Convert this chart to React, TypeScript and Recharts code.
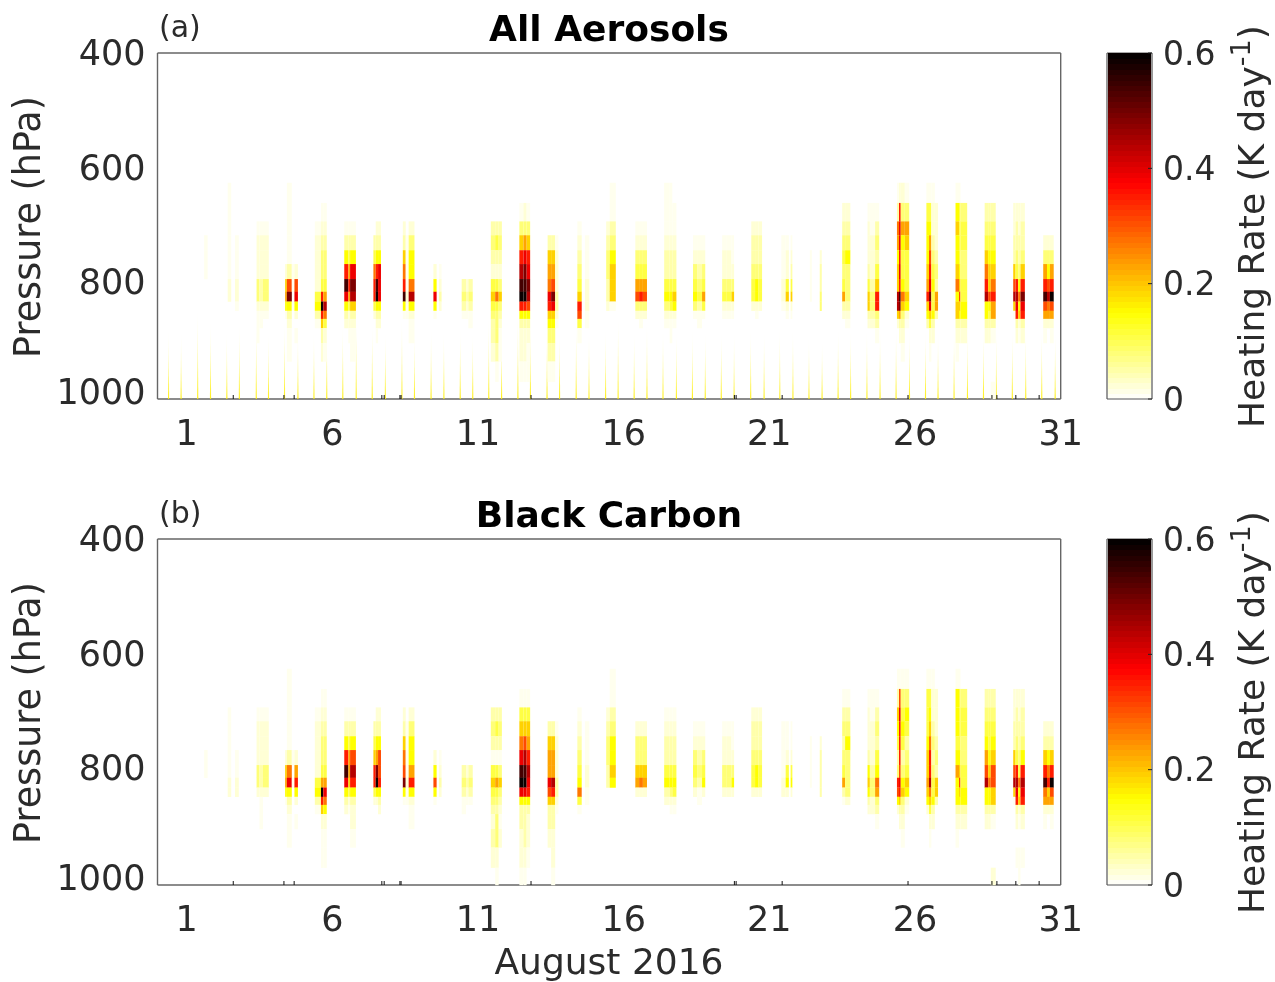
import React from "react";
import { ScatterChart, Scatter, XAxis, YAxis } from "recharts";

// Pressure edges of the model layers (hPa)
const pressureEdges = [625, 660, 692, 716, 742, 766, 792, 814, 831, 847, 861, 877, 903, 935, 970, 1000];
const pressureTicks = [400, 600, 800, 1000];
const pressureLabelNudge = [0, 0, -2, -7];
const dayTicks = [1, 6, 11, 16, 21, 26, 31];
const axisMarks = [2.6, 4.34, 4.69, 7.7, 7.78, 8.32, 8.36, 12.82, 19.8, 19.86, 21.44, 25.76, 28.64, 28.81, 29.46, 30.26];
const colorbarTicks = [0, 0.2, 0.4, 0.6];

// Heating rate (K/day) for each tone letter used in the tables below
const tones: Record<string, number> = {
  ".": 0, a: 0.01, b: 0.025, c: 0.05, d: 0.08, e: 0.11, f: 0.15, g: 0.19, h: 0.23,
  i: 0.27, j: 0.31, k: 0.35, l: 0.39, m: 0.44, n: 0.49, o: 0.54, p: 0.59,
};

// Time edges (days) of the strips in each daytime block
const stripEdges = [
  [1.6, 1.72],
  [2.41, 2.53, 2.66, 2.79],
  [3.4, 3.5, 3.62, 3.82],
  [4.38, 4.44, 4.61, 4.7, 4.82],
  [5.4, 5.61, 5.69, 5.81],
  [6.41, 6.55, 6.61, 6.81],
  [7.41, 7.49, 7.57, 7.67],
  [8.42, 8.52, 8.62, 8.82],
  [9.47, 9.58, 9.66, 9.75],
  [10.44, 10.59, 10.67, 10.82],
  [11.44, 11.59, 11.71, 11.82],
  [12.42, 12.56, 12.67, 12.79],
  [13.39, 13.51, 13.65, 13.76],
  [14.41, 14.56, 14.67, 14.82],
  [15.4, 15.52, 15.73],
  [16.4, 16.53, 16.66, 16.8],
  [17.39, 17.58, 17.67, 17.81],
  [18.38, 18.52, 18.69, 18.8],
  [19.38, 19.54, 19.7, 19.79],
  [20.38, 20.51, 20.63, 20.75],
  [21.41, 21.56, 21.67, 21.73, 21.79],
  [22.39, 22.46, 22.73, 22.8],
  [23.5, 23.6, 23.78],
  [24.37, 24.45, 24.63, 24.77],
  [25.38, 25.45, 25.51, 25.65, 25.8],
  [26.39, 26.48, 26.56, 26.68, 26.79],
  [27.39, 27.51, 27.56, 27.79],
  [28.39, 28.51, 28.6, 28.77],
  [29.37, 29.45, 29.54, 29.62, 29.77],
  [30.4, 30.53, 30.63, 30.76],
];

// All aerosols: one string per strip, one letter per layer, top layer first
const aerosolTones = [
  ["...aaa........."],
  ["aaaaaabb.......", "...............", "...aaabba......"],
  ["..abbbddbaaa...", "..abbbccbaa....", "..abbbddba....."],
  [".....bghfa.....", "aaaaacjnfcbaa..", ".....aa.a......", ".....bjlfb.a..."],
  ["..abbbbefca....", ".abcddekpkgcb..", ".abcddehmieba.."],
  ["..acfkolfcb....", "..acehkhebba...", "..acflnmgcbaa.."],
  ["...ceikkeb.....", "..bcfkopfcba...", "..bcflllfcb...."],
  ["..bcgikofa.....", "...aaaabaa.....", "..bdffimfbaa..."],
  [".....bflfa.....", "...............", ".....abcb......"],
  ["......cdca.....", "......bcba.....", "......cdcaa...."],
  ["..cdcbegedccb..", "..cecbeiedddca.", "..cdcbdgdcbaa.."],
  [".adgkmopkfcbba.", ".bdhlnopkfcbba.", ".adgklnmjfcbaa."],
  ["...cghilkgfdca.", "...cghjnlgfdca.", "...abbbccba...."],
  ["..abcdegkjea...", "...............", "...aaabbbaa...."],
  ["..bcddccb......", "aacdfggga......"],
  ["..abdehjdb.....", "..abdehkdba....", "..abdehjdb....."],
  ["aaabccefdba....", "aaabccefebaa...", ".aabccegfba...."],
  ["...abdefda.....", "...abcdecaa....", "...abdehea....."],
  ["...abbdeba.....", "...abbdeba.....", "...aabdgba....."],
  ["..bccdeeb......", "..bccdffba.....", "..bccdeeb......"],
  ["...aaabba......", "...abbegba.....", "...............", "...abcegba....."],
  ["....aaaa.......", "...............", "....bccdd......"],
  [".bcdedehcb.....", ".bcdfdddcba...."],
  [".abbbceggcb....", ".aabbbcddcb....", ".acdcegkkdca..."],
  ["acihfggmmgb....", "bkllklkonhcb...", "bdhfeefigdcba..", "adhgeeegfba...."],
  ["aefffghkgfc....", "aefhjklnlgeba..", "abbcdefeefcb...", ".bbbcdchhc....."],
  ["afgffgifggcba..", "aeeeefgjgfcb...", ".deeddeeffcb..."],
  [".cdegikmffcb...", ".cdefggjfecb...", ".cdefgikhhca..a"],
  [".bbccgjmga.....", ".bccdekmlkcb...", ".bbccdfifgba...", ".bccdgknlkcb..."],
  ["...bdhkojhba...", "...bdfjmihb....", "...bdhkpjhba..."],
];

// Black carbon: same layout as aerosolTones
const carbonTones = [
  [".....aa........"],
  ["..aaaaabb......", "...............", ".....aabb......"],
  ["..abbbddb......", "..abbbccbaaa...", "..abbbddb......"],
  [".....bghfa.....", "aaaaacilfcbaa..", ".....a.a.......", ".....bhkfb.a..."],
  ["..abbbbefca....", ".abcddehpkgbaa.", ".abcddehlifbaa."],
  ["..acfkolfcb....", "..acehhgeba....", "..acfjmkfcbba.."],
  ["...cegkkeb.....", "..bcfhnpfb.....", "..bcfjjkfcb...."],
  ["..bcgijnfa.....", "...aaaabaa.....", "..bdffhkfbaa..."],
  [".....bfjfa.....", "...............", ".....abcb......"],
  ["......cdcaa....", "......bcba.....", "......cdca....."],
  ["..cdcaegedcbcb.", "..cecaehedcddba", "..cdcadgdcbab.."],
  [".aegiloplfccbba", ".aegjmoplfcccba", ".aeghkmlkfcbba."],
  ["...cghhljgccb..", "...cghhmkgccbba", "...abbbccba...."],
  ["..abcdefiea....", "...............", "...aaabbaa....."],
  ["..bcddcc.......", "aacdffgf......."],
  ["...bddghb......", "...bddgib......", "...bddghb......"],
  ["..abccefcb.....", "..abccefdba....", "..abccefeba...."],
  ["...abdedb......", "...abcdcaa.....", "...abdefb......"],
  ["...abbddb......", "...abbddb......", "...aabdfb......"],
  ["..bccdeeb......", "..bccdffb......", "..bccdeeb......"],
  ["...aaaabb......", "...aabefb......", "...............", "...aabefb......"],
  ["....aaaa.......", "...............", "....bcccc......"],
  [".acdcdehca.....", ".acdfddddb....."],
  [".abbbcfgfcb....", ".aabbbcddbb....", ".acdcefihdca..."],
  ["acgfecdkjfb....", "ajlkkkjlkgcb...", "adefecdfgdcba..", "adfecdegfba...."],
  ["aeeefgghgfb....", "aefgikkmigeba..", "abbcdcdeefcb...", ".bbbcdcggc....."],
  ["afffefhfffcba..", "aeeeefgjgfcb...", ".deeddeeffcb..."],
  [".cdefhjmffcb...", ".cdeefgiffcb...", ".cdefgjjggca..b"],
  [".bbccgjmga.....", ".bccdekmlkcb.a.", ".bbccdeifgba.aa", ".bccdfkmlkcb.a."],
  ["...bcgkoihba...", "...bcfikghb....", "...bcgkpjhba..."],
];

// Thin near-surface streaks in the all-aerosol panel: time (days) and top pressure (hPa)
const streakDays = [
  0.38, 0.81, 1.38, 1.82, 2.38, 2.81, 3.39, 3.81, 4.36, 4.82, 5.37, 5.81, 6.36, 6.82, 7.37, 7.82,
  8.39, 8.82, 9.39, 9.83, 10.39, 10.82, 11.37, 11.81, 12.37, 12.8, 13.37, 13.8, 14.37, 14.81, 15.38,
  15.81, 16.36, 16.8, 17.35, 17.81, 18.36, 18.8, 19.35, 19.79, 20.36, 20.82, 21.36, 21.81, 22.36,
  22.81, 23.36, 23.79, 24.35, 24.8, 25.35, 25.81, 26.36, 26.79, 27.34, 27.8, 28.35, 28.79, 29.34,
  29.8, 30.35, 30.81,
];
const streakTops = [
  880, 885, 845, 865, 885, 870, 870, 885, 865, 885, 885, 875, 870, 860, 870, 885,
  860, 885, 880, 885, 880, 885, 860, 885, 850, 860, 870, 880, 870, 885, 880,
  860, 885, 870, 880, 885, 880, 885, 885, 885, 880, 885, 880, 880, 895,
  900, 880, 880, 880, 880, 875, 880, 880, 885, 880, 880, 880, 880, 880,
  880, 880, 885,
];

const PLOT_LEFT = 157.5;
const PLOT_RIGHT = 1060.7;
const DAY_MAX = 31;
const PLOT_H = 346;
const PX_PER_DAY = (PLOT_RIGHT - PLOT_LEFT) / DAY_MAX;
const PX_PER_HPA = PLOT_H / 600;
const INK = "#2b2b2b";
const FONT = "DejaVu Sans";
const TICK_SIZE = 35;
const FRAME = { stroke: "#666", strokeWidth: 1.4 };

function heatColor(v: number): string {
  const t = 1 - Math.min(v / 0.6, 1);
  const c = (u: number) => Math.round(Math.max(0, Math.min(1, u)) * 255);
  return `rgb(${c(t / 0.375)},${c((t - 0.375) / 0.375)},${c((t - 0.75) / 0.25)})`;
}

function buildCells(table: string[][]) {
  const cells: any[] = [];
  table.forEach((block, b) => {
    const edges = stripEdges[b];
    block.forEach((col, s) => {
      for (let l = 0; l < col.length; l++) {
        const v = tones[col[l]];
        if (!v) continue;
        cells.push({
          t: (edges[s] + edges[s + 1]) / 2,
          p: (pressureEdges[l] + pressureEdges[l + 1]) / 2,
          w: edges[s + 1] - edges[s],
          h: pressureEdges[l + 1] - pressureEdges[l],
          v,
        });
      }
    });
  });
  return cells;
}

const CellShape = (props: any) => {
  const { cx, cy, payload } = props;
  const w = payload.w * PX_PER_DAY;
  const h = payload.h * PX_PER_HPA;
  return <rect x={cx - w / 2} y={cy - h / 2} width={w} height={h + 0.2} fill={heatColor(payload.v)} />;
};

const StreakShape = (props: any) => {
  const { cx, cy, payload } = props;
  const bottom = cy + (1000 - payload.p) * PX_PER_HPA;
  return <polygon points={`${cx - 0.6},${bottom} ${cx + 0.6},${bottom} ${cx},${cy}`} fill="url(#streakFill)" />;
};

const BottomTick = (props: any) => {
  const { x, y, payload } = props;
  if (dayTicks.includes(payload.value)) {
    return (
      <text x={x} y={y + 34} textAnchor="middle" dominantBaseline="central" fontFamily={FONT} fontSize={TICK_SIZE} fill={INK}>
        {payload.value}
      </text>
    );
  }
  return <line x1={x} x2={x} y1={y} y2={y - 4} stroke="#111" strokeWidth={1} />;
};

const TopTick = (props: any) => {
  const { x, y } = props;
  return <line x1={x} x2={x} y1={y} y2={y + 4} stroke="#111" strokeWidth={1} />;
};

const PressureTick = (props: any) => {
  const { x, y, payload } = props;
  const nudge = pressureLabelNudge[pressureTicks.indexOf(payload.value)] || 0;
  return (
    <text x={x} y={y + nudge} textAnchor="end" dominantBaseline="central" fontFamily={FONT} fontSize={TICK_SIZE} fill={INK}>
      {payload.value}
    </text>
  );
};

const ColorbarTick = (props: any) => {
  const { x, y, payload } = props;
  return (
    <g>
      <line x1={x - 4} x2={x} y1={y} y2={y} stroke="#222" strokeWidth={1} />
      <text x={x + 11} y={y} dominantBaseline="central" fontFamily={FONT} fontSize={33} fill={INK}>
        {payload.value}
      </text>
    </g>
  );
};

const colorbarSteps = Array.from({ length: 64 }, (_, i) => ({ x: 0.5, y: (i + 0.5) * (0.6 / 64), step: 0.6 / 64 }));

const ColorbarCell = (props: any) => {
  const { cx, cy, payload } = props;
  const h = (345 / 0.6) * payload.step;
  const isLowest = payload.y < payload.step;
  return (
    <rect
      x={cx - 21.6}
      y={cy - h / 2}
      width={43.2}
      height={isLowest ? h - 1 : h + 0.6}
      shapeRendering="crispEdges"
      fill={heatColor(payload.y)}
    />
  );
};

function Panel({ top, table, streaks, title, tag, xLabel }: any) {
  const cells = buildCells(table);
  const streakData = streaks ? streakDays.map((t, i) => ({ t, p: streakTops[i] })) : [];
  return (
    <div style={{ position: "absolute", left: 0, top, width: 1095, height: 496 }}>
      <ScatterChart width={1095} height={496} margin={{ left: 97.5, right: 33.3, top: 52, bottom: 57 }}>
        <defs>
          <linearGradient id="streakFill" x1="0" y1="0" x2="0" y2="1">
            <stop offset="0" stopColor="#ffffa0" stopOpacity={0.05} />
            <stop offset="1" stopColor="#ffee00" stopOpacity={0.9} />
          </linearGradient>
        </defs>
        <XAxis type="number" dataKey="t" domain={[0, DAY_MAX]} ticks={[...dayTicks, ...axisMarks]} interval={0} height={40}
          tickLine={false} tickSize={0} tickMargin={0} tick={<BottomTick />} axisLine={FRAME} />
        <XAxis xAxisId="frameTop" orientation="top" type="number" domain={[0, DAY_MAX]} ticks={axisMarks} interval={0} height={1}
          tickLine={false} tickSize={0} tickMargin={0} tick={<TopTick />} axisLine={FRAME} />
        <YAxis type="number" dataKey="p" reversed domain={[400, 1000]} ticks={pressureTicks} interval={0} width={60}
          tickLine={false} tickSize={0} tickMargin={12} tick={<PressureTick />} axisLine={FRAME} />
        <YAxis yAxisId="frameRight" orientation="right" type="number" reversed domain={[400, 1000]} ticks={pressureTicks} width={1}
          tick={false} tickLine={false} axisLine={FRAME} />
        {streaks && <Scatter data={streakData} shape={<StreakShape />} isAnimationActive={false} />}
        <Scatter data={cells} shape={<CellShape />} isAnimationActive={false} />
        <text x={159} y={37} fontFamily={FONT} fontSize={30} fill={INK}>{tag}</text>
        <text x={609} y={41} textAnchor="middle" fontFamily={FONT} fontSize={36} fontWeight="bold" fill="#000">{title}</text>
        <text transform="translate(40,227) rotate(-90)" textAnchor="middle" fontFamily={FONT} fontSize={36.5} fill={INK}>
          Pressure (hPa)
        </text>
        {xLabel && (
          <text x={609} y={488} textAnchor="middle" fontFamily={FONT} fontSize={36} fill={INK}>{xLabel}</text>
        )}
      </ScatterChart>
    </div>
  );
}

function Colorbar({ top }: any) {
  const frame = { stroke: "#555", strokeWidth: 1.2 };
  return (
    <div style={{ position: "absolute", left: 1100, top, width: 175, height: 440 }}>
      <ScatterChart width={175} height={440} margin={{ left: 6, right: 23, top: 52, bottom: 40 }}>
        <XAxis type="number" dataKey="x" domain={[0, 1]} height={1} tick={false} tickLine={false} axisLine={frame} />
        <XAxis xAxisId="barTop" orientation="top" type="number" domain={[0, 1]} height={1} tick={false} tickLine={false} axisLine={frame} />
        <YAxis type="number" dataKey="y" orientation="right" domain={[0, 0.6]} ticks={colorbarTicks} interval={0} width={100}
          tickLine={false} tickSize={0} tickMargin={0} tick={<ColorbarTick />} axisLine={frame} />
        <YAxis yAxisId="barLeft" orientation="left" type="number" domain={[0, 0.6]} width={1} tick={false} tickLine={false} axisLine={frame} />
        <Scatter data={colorbarSteps} shape={<ColorbarCell />} isAnimationActive={false} />
        <text transform="translate(164,428) rotate(-90)" fontFamily={FONT} fontSize={36} fill={INK}>
          Heating Rate (K day
          <tspan dy={-14} fontSize={27}>-1</tspan>
          <tspan dy={14}>)</tspan>
        </text>
      </ScatterChart>
    </div>
  );
}

export default function App() {
  return (
    <div style={{ position: "absolute", left: 0, top: 0, width: 1275, height: 982, background: "#fff", overflow: "hidden", filter: "blur(0.45px)" }}>
      <Panel top={0} table={aerosolTones} streaks title="All Aerosols" tag="(a)" />
      <Panel top={486} table={carbonTones} title="Black Carbon" tag="(b)" xLabel="August 2016" />
      <Colorbar top={0} />
      <Colorbar top={486} />
    </div>
  );
}
